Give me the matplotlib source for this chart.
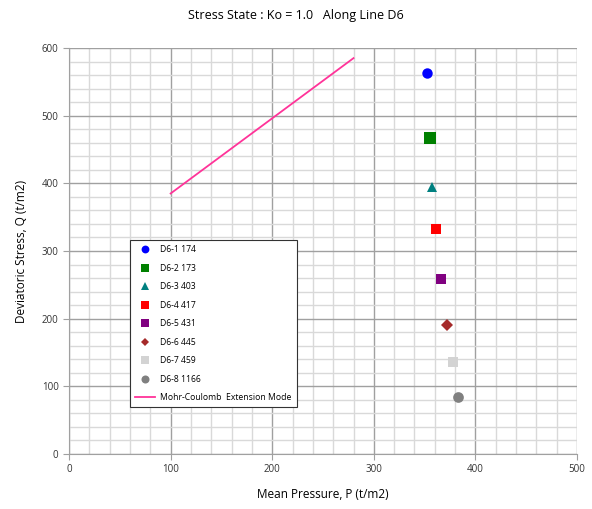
import numpy as np
import matplotlib
matplotlib.use("Agg")
import matplotlib.pyplot as plt

plt.rcParams['font.family'] = ['Open Sans', 'DejaVu Sans']

# Sample points (mean pressure P, deviatoric stress Q)
labels = ['D6-1 174', 'D6-2 173', 'D6-3 403', 'D6-4 417',
          'D6-5 431', 'D6-6 445', 'D6-7 459', 'D6-8 1166']
p_vals = [352, 355, 357, 361, 366, 372, 378, 383]
q_vals = [563, 467, 394, 333, 258, 190, 136, 85]
markers = ['o', 's', '^', 's', 's', 'D', 's', 'o']
colors = ['#0000ff', '#008000', '#008080', '#ff0000',
          '#800080', '#a52a2a', '#d3d3d3', '#808080']
sizes = [7.5, 8, 7.5, 7.3, 7.3, 5.8, 7.3, 7.7]

# Mohr-Coulomb extension line
mc_p = [100, 280]
mc_q = [385, 585]

fig = plt.figure(figsize=(5.92, 5.09), dpi=100)
ax = fig.add_axes([0.1166, 0.108, 0.8581, 0.7977])

for lab, p, q, m, c, s in zip(labels, p_vals, q_vals, markers, colors, sizes):
    ax.plot(p, q, linestyle='none', marker=m, color=c, markersize=s,
            markeredgewidth=0, label=lab)
ax.plot(mc_p, mc_q, color='#ff3399', linewidth=1.3, label='Mohr-Coulomb  Extension Mode')

ax.set_xlim(0, 500)
ax.set_ylim(0, 600)
ax.set_xticks(np.arange(0, 501, 100))
ax.set_yticks(np.arange(0, 601, 100))
ax.set_xticks(np.arange(0, 501, 20), minor=True)
ax.set_yticks(np.arange(0, 601, 20), minor=True)
ax.grid(which='major', color='#a0a0a0', linewidth=1.0)
ax.grid(which='minor', color='#d9d9d9', linewidth=1.0)
ax.set_axisbelow(True)
ax.tick_params(which='major', labelsize=7, length=4, color='#a0a0a0', colors='#333333')
ax.tick_params(which='minor', length=0)
for side in ['top', 'right']:
    ax.spines[side].set_visible(False)
for side in ['left', 'bottom']:
    ax.spines[side].set_color('#a0a0a0')

ax.set_xlabel('Mean Pressure, P (t/m2)', fontsize=8.5, labelpad=9)
ax.set_ylabel('Deviatoric Stress, Q (t/m2)', fontsize=8.5, labelpad=10)
fig.text(0.5, 0.97, 'Stress State : Ko = 1.0   Along Line D6', ha='center', va='center', fontsize=9)

leg = ax.legend(loc='upper left', bbox_to_anchor=(0.12, 0.527), fontsize=6.2,
                frameon=True, fancybox=False, labelspacing=1.1, handlelength=2.3,
                borderpad=0.6, borderaxespad=0, markerscale=0.75, handletextpad=0.6)
leg.get_frame().set_edgecolor('#333333')
leg.get_frame().set_linewidth(0.8)
leg.get_frame().set_alpha(1.0)

fig.savefig('out.png', dpi=100)
